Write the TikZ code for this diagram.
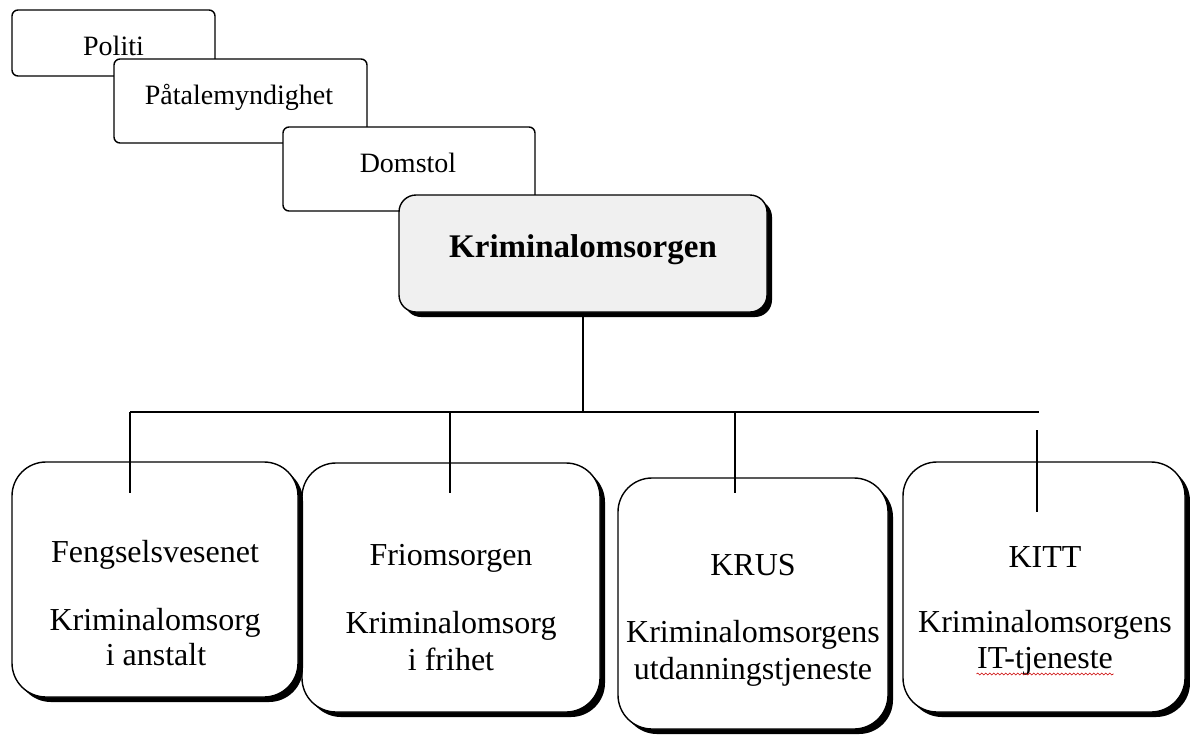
\documentclass[tikz,border=0pt]{standalone}
\usepackage{fontspec}
\setmainfont{Liberation Serif}
\usetikzlibrary{shadows,decorations.pathmorphing}
\newcommand\fnTop{\fontsize{28}{32}\selectfont}
\newcommand\fnBot{\fontsize{32}{36}\selectfont}
\newcommand\fnHead{\fontsize{33}{38}\selectfont\bfseries}
\begin{document}
\begin{tikzpicture}[x=1pt,y=-1pt,line width=1.4pt,
  topbox/.style={draw=black, fill=white, rounded corners=6pt, inner sep=0pt},
  headbox/.style={draw=black, fill=black!6, rounded corners=17pt, inner sep=0pt,
    drop shadow={shadow xshift=5pt, shadow yshift=-5pt, fill=black, opacity=1}},
  unitbox/.style={draw=black, fill=white, rounded corners=34pt, inner sep=0pt,
    drop shadow={shadow xshift=5pt, shadow yshift=-5pt, fill=black, opacity=1}},
  toptxt/.style={inner sep=0pt, anchor=base, font=\fnTop},
  headtxt/.style={inner sep=0pt, anchor=base, font=\fnHead},
  bottxt/.style={inner sep=0pt, anchor=base, font=\fnBot},
  link/.style={draw=black, line width=1.4pt},
  squiggle/.style={draw=red!80!black, line width=0.6pt, decorate,
    decoration={snake, amplitude=1pt, segment length=4pt}}]
\useasboundingbox (0,0) rectangle (1190,734);
\fill[white] (0,0) rectangle (1190,734);

% upper chain
\node[topbox, minimum width=203pt, minimum height=66pt] (politi) at (113.5,43) {};
\node[toptxt] (politiT) at (113.5,55) {Politi};
\node[topbox, minimum width=253pt, minimum height=84pt] (patale) at (240.5,101) {};
\node[toptxt] (pataleT) at (239,104) {Påtalemyndighet};
\node[topbox, minimum width=252pt, minimum height=84pt] (domstol) at (409,169) {};
\node[toptxt] (domstolT) at (408,172) {Domstol};
\node[headbox, minimum width=368pt, minimum height=117pt] (krim) at (583,253.5) {};
\node[headtxt] (krimT) at (583,257) {Kriminalomsorgen};

% lower units
\node[unitbox, minimum width=298pt, minimum height=249pt] (friom) at (451,587.5) {};
\node[unitbox, minimum width=286pt, minimum height=235pt] (fengsel) at (155,579.5) {};
\node[unitbox, minimum width=270pt, minimum height=251pt] (krus) at (753,603.5) {};
\node[unitbox, minimum width=282pt, minimum height=250pt] (kitt) at (1044,587) {};

\node[bottxt] (fengselA) at (155,562) {Fengselsvesenet};
\node[bottxt] (fengselB) at (155,630) {Kriminalomsorg};
\node[bottxt] (fengselC) at (156,665) {i anstalt};

\node[bottxt] (friomA) at (451,565) {Friomsorgen};
\node[bottxt] (friomB) at (451,633) {Kriminalomsorg};
\node[bottxt] (friomC) at (451,670) {i frihet};

\node[bottxt] (krusA) at (753,575) {KRUS};
\node[bottxt] (krusB) at (753,642) {Kriminalomsorgens};
\node[bottxt] (krusC) at (753,679) {utdanningstjeneste};

\node[bottxt] (kittA) at (1045,567) {KITT};
\node[bottxt] (kittB) at (1045,632) {Kriminalomsorgens};
\node[bottxt] (kittC) at (1045,668) {IT-tjeneste};
\draw[squiggle] ([shift={(0,6)}]kittC.base west) -- ([shift={(0,6)}]kittC.base east);

% connectors
\coordinate (busL) at (130,412);
\coordinate (busR) at (1039,412);
\coordinate (busM) at (583,412);
\coordinate (d1) at (130,493);
\coordinate (j2) at (450,412);
\coordinate (d2) at (450,493);
\coordinate (j3) at (735,412);
\coordinate (d3) at (735,493);
\coordinate (j4) at (1037,430);
\coordinate (d4) at (1037,512);

\draw[link] (krim.south) -- (busM);
\draw[link] (busL) -- (busR);
\draw[link] (busL) -- (d1);
\draw[link] (j2) -- (d2);
\draw[link] (j3) -- (d3);
\draw[link] (j4) -- (d4);
\end{tikzpicture}
\end{document}
